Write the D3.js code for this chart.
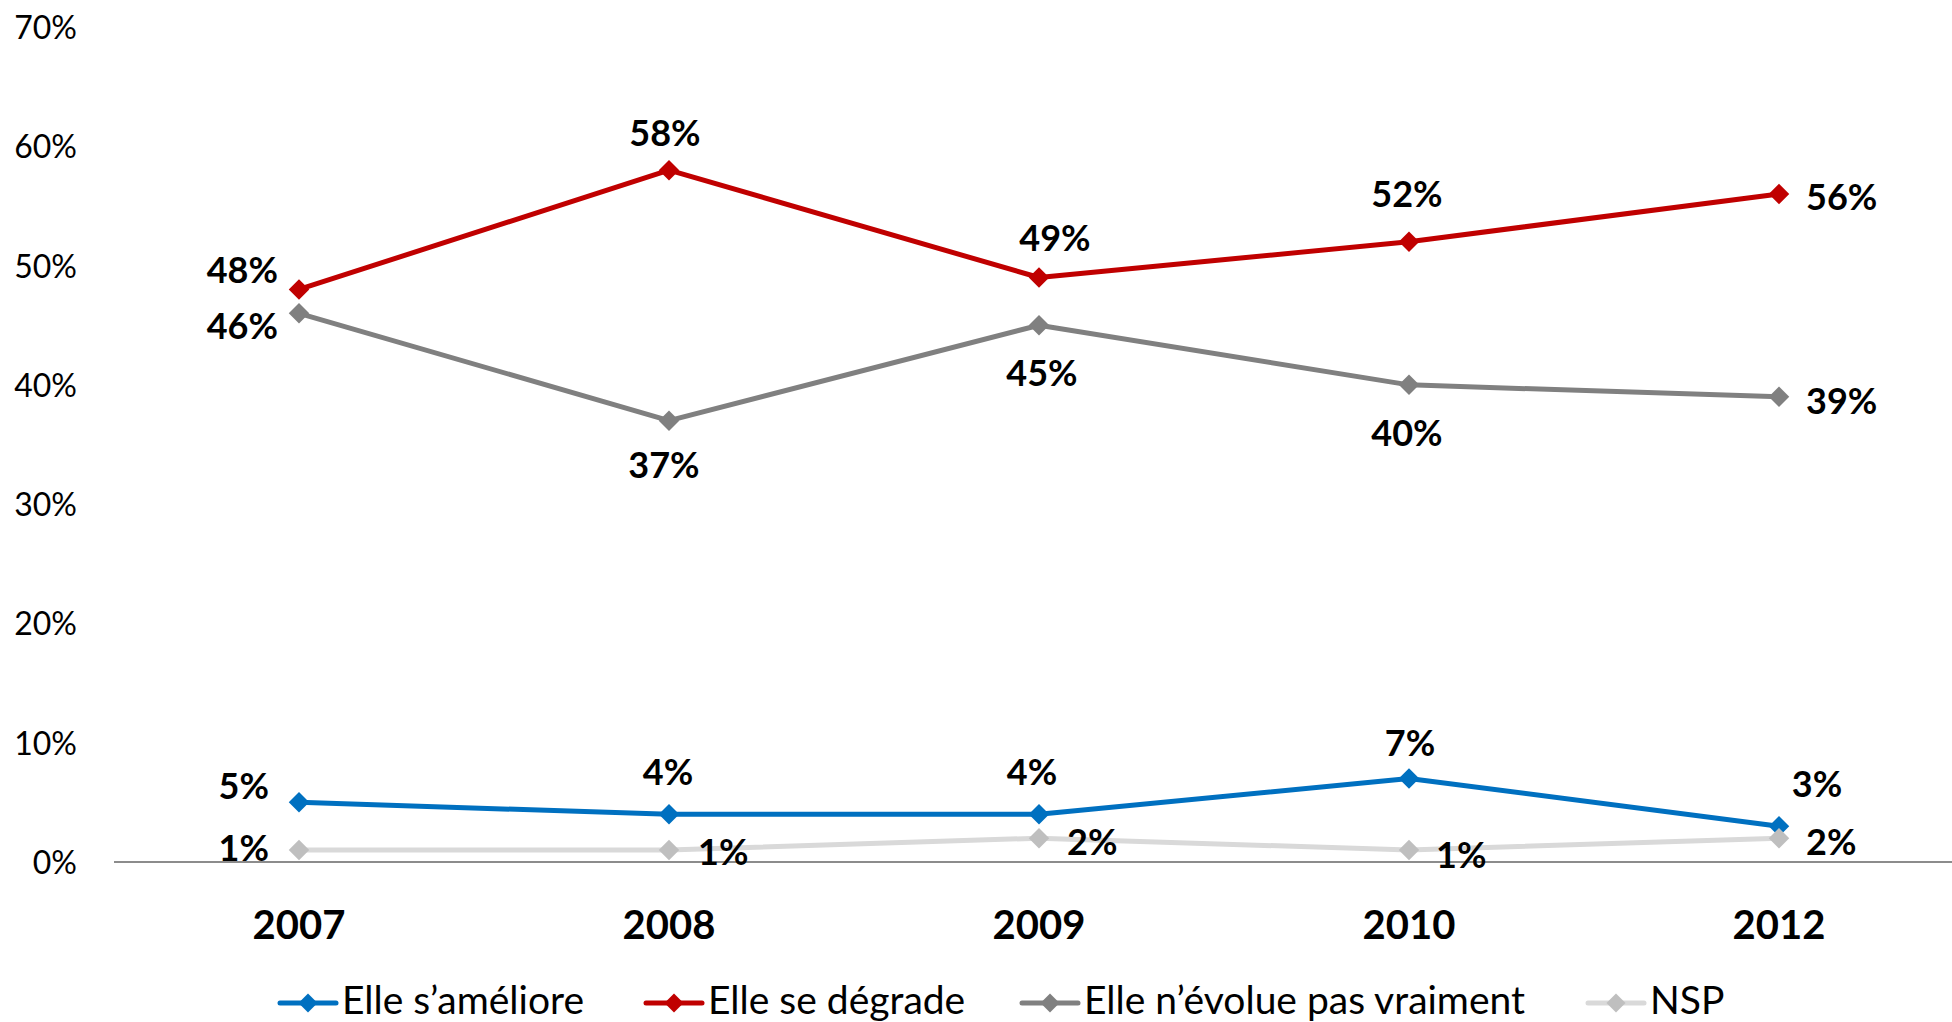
<!DOCTYPE html>
<html>
<head>
<meta charset="utf-8">
<script src="https://cdn.jsdelivr.net/npm/d3@7"></script>
<style>
  html, body { margin: 0; padding: 0; background: #fff; }
  svg { display: block; font-family: Lato, "Open Sans", sans-serif; }
</style>
</head>
<body>
<svg id="chart" width="1952" height="1022"></svg>
<script>
// Survey years
const years = ["2007", "2008", "2009", "2010", "2012"];

// Share of answers per year (%)
const ameliore = [5, 4, 4, 7, 3];
const degrade = [48, 58, 49, 52, 56];
const nEvoluePas = [46, 37, 45, 40, 39];
const nsp = [1, 1, 2, 1, 2];

// Y axis ticks (%)
const yTicks = [0, 10, 20, 30, 40, 50, 60, 70];

// Series names shown in the legend
const seriesNames = ["Elle s’améliore", "Elle se dégrade", "Elle n’évolue pas vraiment", "NSP"];

// Appearance of each series
const seriesStyle = [
  { line: "#0070C0", marker: "#0070C0" },
  { line: "#C00000", marker: "#C00000" },
  { line: "#808080", marker: "#808080" },
  { line: "#D9D9D9", marker: "#BFBFBF" }
];

// Value-label placement per point: [dx, dy, anchor] relative to the marker
const labelPlacement = [
  [[-30, -3, "end"], [-1, -29, "middle"], [-7, -29, "middle"], [1, -23, "middle"], [38, -29, "middle"]],
  [[-21, -6, "end"], [-4, -24, "middle"], [16, -27, "middle"], [-2, -35, "middle"], [27, 16, "start"]],
  [[-21, 26, "end"], [-5, 57, "middle"], [3, 61, "middle"], [-2, 61, "middle"], [27, 17, "start"]],
  [[-30, 11, "end"], [29, 15, "start"], [28, 17, "start"], [27, 18, "start"], [27, 17, "start"]]
];

// Left edge of each legend entry
const legendX = [280, 646, 1022, 1588];

const seriesValues = [ameliore, degrade, nEvoluePas, nsp];

const svg = d3.select("#chart");

const x = d3.scaleBand().domain(years).range([114, 1964]).padding(0);
const cx = d => x(d) + x.bandwidth() / 2;
const y = d3.scaleLinear().domain([0, 70]).range([862, 27]);

// Y axis labels (no axis line, no ticks)
const yAxis = d3.axisLeft(y).tickValues(yTicks).tickSize(0).tickPadding(0)
  .tickFormat(d => d + "%");
const yG = svg.append("g").attr("transform", "translate(77,0)").call(yAxis);
yG.select(".domain").remove();
yG.selectAll("text")
  .attr("font-family", "Lato, sans-serif")
  .attr("font-size", 32)
  .attr("fill", "#000")
  .attr("dy", "0.36em");

// Horizontal category axis line at 0%
svg.append("line")
  .attr("x1", 114).attr("x2", 1952)
  .attr("y1", y(0)).attr("y2", y(0))
  .attr("stroke", "#8C8C8C").attr("stroke-width", 2);

// Category labels
const xAxis = d3.axisBottom(x).tickSize(0).tickPadding(0);
const xG = svg.append("g").attr("transform", "translate(0,939)").call(xAxis);
xG.select(".domain").remove();
xG.selectAll("text")
  .attr("font-family", "Lato, sans-serif")
  .attr("font-weight", "bold")
  .attr("font-size", 40)
  .attr("fill", "#000")
  .attr("y", 0)
  .attr("dy", 0);

const diamond = d3.symbol().type(d3.symbolSquare).size(210);
const line = d3.line().x(d => cx(d.year)).y(d => y(d.value));

seriesValues.forEach((vals, si) => {
  const pts = vals.map((v, i) => ({ year: years[i], value: v, i }));
  const g = svg.append("g");
  g.append("path")
    .datum(pts)
    .attr("d", line)
    .attr("fill", "none")
    .attr("stroke", seriesStyle[si].line)
    .attr("stroke-width", 5)
    .attr("stroke-linejoin", "round")
    .attr("stroke-linecap", "round");
  g.selectAll("path.mk")
    .data(pts)
    .join("path")
    .attr("class", "mk")
    .attr("d", diamond)
    .attr("fill", seriesStyle[si].marker)
    .attr("transform", d => `translate(${cx(d.year)},${y(d.value)}) rotate(45)`);
});

// Value labels drawn after all lines so they stay on top
seriesValues.forEach((vals, si) => {
  svg.append("g").selectAll("text")
    .data(vals.map((v, i) => ({ year: years[i], value: v, i })))
    .join("text")
    .attr("x", d => cx(d.year) + labelPlacement[si][d.i][0])
    .attr("y", d => y(d.value) + labelPlacement[si][d.i][1])
    .attr("text-anchor", d => labelPlacement[si][d.i][2])
    .attr("font-family", "Lato, sans-serif")
    .attr("font-weight", "bold")
    .attr("font-size", 36)
    .attr("fill", "#000")
    .text(d => d.value + "%");
});

// Legend
const items = svg.append("g").selectAll("g")
  .data(seriesNames.map((n, i) => ({ name: n, i })))
  .join("g")
  .attr("transform", d => `translate(${legendX[d.i]},1003)`);
items.append("line")
  .attr("x1", 0).attr("x2", 56)
  .attr("y1", 0).attr("y2", 0)
  .attr("stroke", d => seriesStyle[d.i].line)
  .attr("stroke-width", 5)
  .attr("stroke-linecap", "round");
items.append("path")
  .attr("d", d3.symbol().type(d3.symbolSquare).size(180))
  .attr("transform", "translate(28,0) rotate(45)")
  .attr("fill", d => seriesStyle[d.i].marker);
items.append("text")
  .attr("x", 62)
  .attr("y", 11)
  .attr("font-family", "Lato, sans-serif")
  .attr("font-size", 39)
  .attr("fill", "#000")
  .text(d => d.name);
</script>
</body>
</html>
